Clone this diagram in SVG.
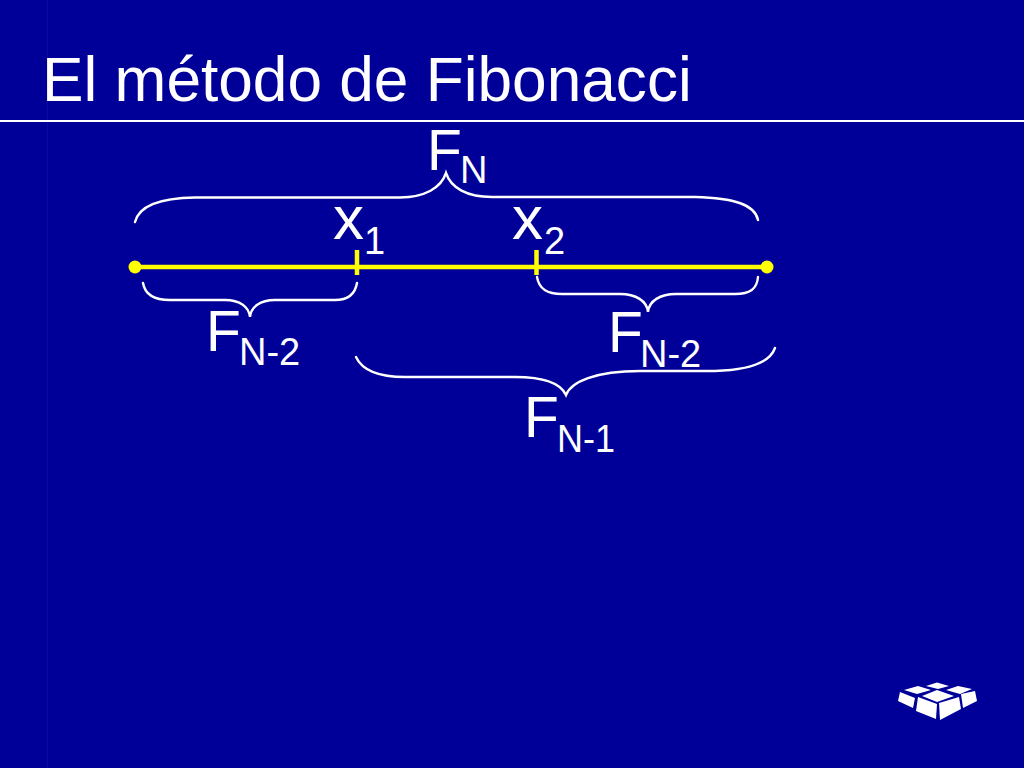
<svg xmlns="http://www.w3.org/2000/svg" width="1024" height="768" viewBox="0 0 1024 768">
<style>
text{font-family:"Liberation Sans",Arial,sans-serif;fill:#fff}
.t{font-size:62.2px}
.m{font-size:57px}
.x{font-size:62px}
.s{font-size:38px}
.b{fill:none;stroke:#fff;stroke-width:2.4;stroke-linecap:round}
.y{stroke:#ff0;fill:none}
.d{fill:#ff0}
.l{fill:#fff}
</style>
<rect width="1024" height="768" fill="#000099"/>
<rect x="47" y="0" width="1" height="768" fill="#0A0AA0"/>
<g id="title"><text class="t" x="42" y="101">El método de Fibonacci</text></g>
<rect id="rule" x="0" y="120" width="1024" height="2" fill="#fff"/>
<g id="connectors">
<path class="y" stroke-width="4.5" d="M135 267H767"/>
<path class="b" d="M135 222C139 206 160 198 195 197.500H400C425 197 441 188 446 173C451 188 467 197 492 197H695C735 198 755 205 758 220"/>
<path class="b" d="M143 283C145 295 155 300 170 300H225C240 300 249 307 250 317C251 307 260 300 275 300H335C347 300 355 295 357 283"/>
<path class="b" d="M537 277C539 289 547 294 562 294H620C636 294 647 301 648 312C649 301 660 294 676 294H735C750 294 757 289 758 277"/>
<path class="b" d="M356 357C362 370 378 377 405 377H515C545 377 561 384 566 395C571 382 595 371 640 371H715C750 370 770 362 775 348"/>
</g>
<g id="segment">
<circle class="d" cx="135" cy="267" r="6.500"/>
<circle class="d" cx="767" cy="267" r="6.500"/>
<path class="y" stroke-width="4.500" d="M357 250V275M536.500 250V275"/>
</g>
<g id="label-fn"><text class="m" x="427" y="170">F</text><text class="s" x="460" y="183">N</text></g>
<g id="label-x1"><text class="x" x="333" y="239">x</text><text class="s" x="364" y="254">1</text></g>
<g id="label-x2"><text class="x" x="512" y="239">x</text><text class="s" x="544" y="254">2</text></g>
<g id="label-fn2-left"><text class="m" x="206" y="351">F</text><text class="s" x="239" y="365">N-2</text></g>
<g id="label-fn2-right"><text class="m" x="608" y="352">F</text><text class="s" x="640" y="367">N-2</text></g>
<g id="label-fn1"><text class="m" x="524" y="437">F</text><text class="s" x="557" y="452" textLength="58" lengthAdjust="spacingAndGlyphs">N-1</text></g>
<g id="logo">
<polygon class="l" points="900,692 915,698 913,708 898,701"/>
<polygon class="l" points="918,697 937,704 936,719 916,711"/>
<polygon class="l" points="939,703 959,697 961,709 940,720"/>
<polygon class="l" points="961,694 975,691 977,701 963,708"/>
<polygon class="l" points="922,696 937,690 954,696 937,702"/>
<polygon class="l" points="904,690 918,686 931,690 917,694"/>
<polygon class="l" points="946,690 958,686 972,689 960,694"/>
<polygon class="l" points="926,686 937,682.500 949,686 938,689"/>
</g>
</svg>
